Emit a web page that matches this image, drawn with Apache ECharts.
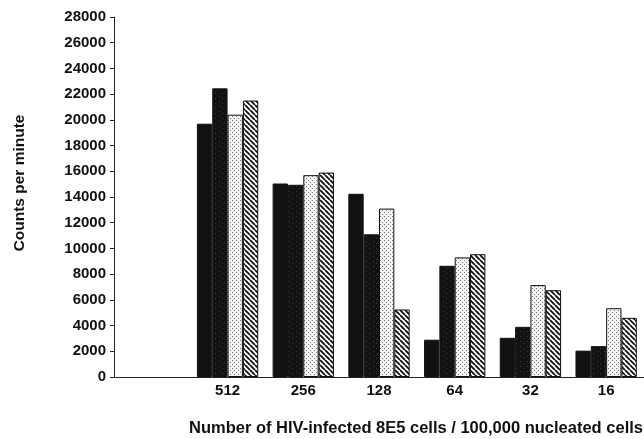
<!DOCTYPE html>
<html>
<head>
<meta charset="utf-8">
<script src="https://cdn.jsdelivr.net/npm/echarts@6/dist/echarts.min.js"></script>
<style>
  html, body { margin: 0; padding: 0; background: #fff; }
  #chart { width: 644px; height: 439px; }
</style>
</head>
<body>
<div id="chart"></div>
<script>
// cells per 100,000 nucleated cells (first slot is empty in the figure)
const categories = ["", "512", "256", "128", "64", "32", "16"];
const solidBlack = ["-", 19700, 15050, 14250, 2900, 3050, 2050];
const darkDots   = ["-", 22450, 14950, 11100, 8650, 3900, 2400];
const lightDots  = ["-", 20400, 15700, 13100, 9300, 7150, 5350];
const hatched    = ["-", 21500, 15900, 5250, 9550, 6750, 4600];
const yTicks = { min: 0, max: 28000, step: 2000 };

const FONT = "'Liberation Sans', Arial, sans-serif";

// little canvas tiles for the print-style fills
function tile(w, h, draw) {
  const c = document.createElement("canvas");
  c.width = w; c.height = h;
  const ctx = c.getContext("2d");
  draw(ctx, w, h);
  return { image: c, repeat: "repeat" };
}

const darkFill = tile(7, 5, (ctx, w, h) => {
  ctx.fillStyle = "#121212";
  ctx.fillRect(0, 0, w, h);
  ctx.fillStyle = "#3a3a3a";
  ctx.fillRect(2, 1, 1, 1);
  ctx.fillRect(5, 3, 1, 1);
});

const lightFill = tile(4, 4, (ctx, w, h) => {
  ctx.fillStyle = "#f4f4f4";
  ctx.fillRect(0, 0, w, h);
  ctx.fillStyle = "#7a7a7a";
  ctx.fillRect(0, 0, 1, 1);
  ctx.fillRect(2, 2, 1, 1);
});

const hatchFill = tile(5, 5, (ctx, w, h) => {
  ctx.fillStyle = "#fff";
  ctx.fillRect(0, 0, w, h);
  ctx.strokeStyle = "#111";
  ctx.lineWidth = 1.8;
  ctx.beginPath();
  for (let k = -w; k <= w * 2; k += w) {
    ctx.moveTo(k, 0);
    ctx.lineTo(k + w, h);
  }
  ctx.stroke();
});

function barSeries(name, data, fill) {
  return {
    name, type: "bar", data,
    barGap: "0%", barCategoryGap: "19%",
    itemStyle: { color: fill, borderColor: "#111", borderWidth: 1 },
    silent: true
  };
}

const chart = echarts.init(document.getElementById("chart"));
chart.setOption({
  animation: false,
  grid: { left: 114, top: 17, bottom: 62, width: 535 },
  xAxis: {
    type: "category",
    data: categories,
    axisLine: { lineStyle: { color: "#222", width: 1 } },
    axisTick: { alignWithLabel: true, length: 4, lineStyle: { color: "#222" } },
    axisLabel: { margin: 6, color: "#111", fontFamily: FONT, fontWeight: "bold", fontSize: 15 }
  },
  yAxis: {
    type: "value",
    min: yTicks.min, max: yTicks.max, interval: yTicks.step,
    splitLine: { show: false },
    axisLine: { show: true, lineStyle: { color: "#222", width: 1 } },
    axisTick: { show: true, length: 4, lineStyle: { color: "#222" } },
    axisLabel: {
      margin: 8, color: "#111", fontFamily: FONT, fontWeight: "bold", fontSize: 15,
      formatter: v => String(v)
    }
  },
  graphic: [
    {
      type: "text", x: 20, y: 183, rotation: Math.PI / 2,
      style: {
        text: "Counts per minute", fill: "#111", font: "bold 15.5px " + FONT,
        align: "center", verticalAlign: "middle"
      }
    },
    {
      type: "text", x: 416, y: 428,
      style: {
        text: "Number of HIV-infected 8E5 cells / 100,000 nucleated cells",
        fill: "#111", font: "bold 16.5px " + FONT,
        align: "center", verticalAlign: "middle"
      }
    }
  ],
  series: [
    barSeries("black", solidBlack, "#111"),
    barSeries("dark", darkDots, darkFill),
    barSeries("light", lightDots, lightFill),
    barSeries("hatched", hatched, hatchFill)
  ]
});
</script>
</body>
</html>
